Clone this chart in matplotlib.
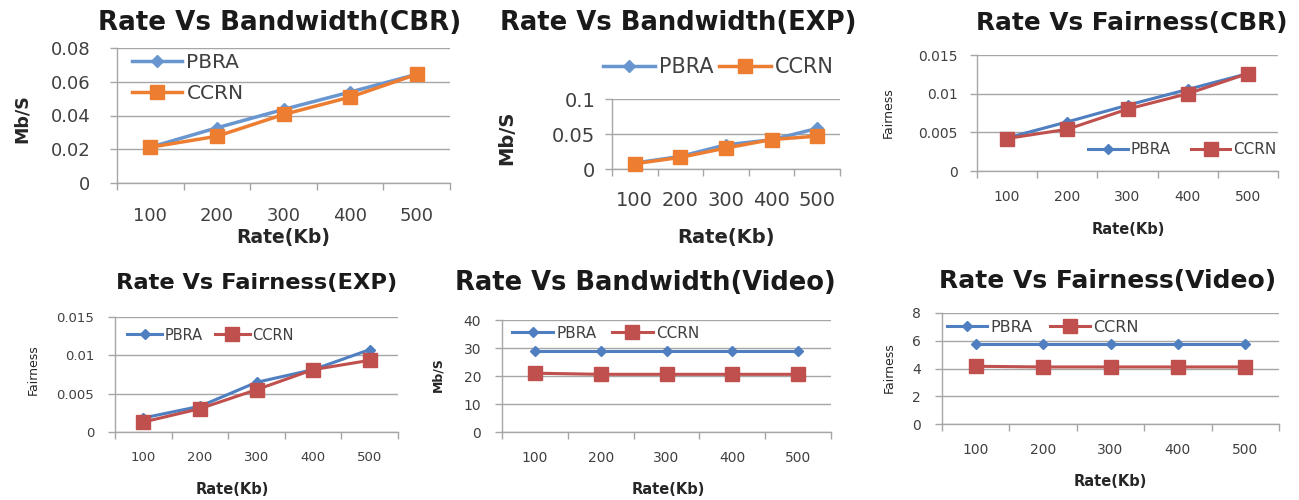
import matplotlib
matplotlib.use("Agg")
import matplotlib.pyplot as plt
import numpy as np

W, H = 1299, 500
DPI = 100
plt.rcParams['font.family'] = ['DejaVu Sans']

rates = ["100", "200", "300", "400", "500"]
series_names = ["PBRA", "CCRN"]

bw_cbr_pbra = [0.0212, 0.0327, 0.0436, 0.0539, 0.0644]
bw_cbr_ccrn = [0.0212, 0.0277, 0.0406, 0.0509, 0.0644]

bw_exp_pbra = [0.0085, 0.018, 0.0346, 0.0417, 0.058]
bw_exp_ccrn = [0.0076, 0.0166, 0.030, 0.042, 0.047]

fair_cbr_pbra = [0.00428, 0.00635, 0.00851, 0.01055, 0.0126]
fair_cbr_ccrn = [0.0042, 0.0054, 0.0080, 0.0100, 0.0126]

fair_exp_pbra = [0.00183, 0.00335, 0.00648, 0.00813, 0.01074]
fair_exp_ccrn = [0.0013, 0.00304, 0.00552, 0.00813, 0.00935]

bw_video_pbra = [29.1, 29.1, 29.1, 29.1, 29.1]
bw_video_ccrn = [21.0, 20.6, 20.6, 20.6, 20.6]

fair_video_pbra = [5.8, 5.8, 5.8, 5.8, 5.8]
fair_video_ccrn = [4.16, 4.11, 4.11, 4.11, 4.11]

fig = plt.figure(figsize=(W / DPI, H / DPI), dpi=DPI)

GRID = "#a6a6a6"
TXT = "#404040"


def px_axes(l, r, t, b):
    return fig.add_axes([l / W, 1 - b / H, (r - l) / W, (b - t) / H])


def ftext(x, y, s, **kw):
    fig.text(x / W, 1 - y / H, s, ha='center', va='center', **kw)


def panel(box, pbra, ccrn, ylim, ystep, ylabels, colors, tick_fs, xpad, ypad,
          title, title_xy, title_fs, xlab_xy, lab_fs, ylab, ylab_xy, ylab_fs, ylab_w,
          ms_sq, ms_d, lw, leg_xy, legend_kw):
    ax = px_axes(*box)
    c1, c2 = colors
    ax.plot(rates, pbra, color=c1, marker='D', ms=ms_d, lw=lw, label=series_names[0],
            zorder=3, clip_on=False)
    ax.plot(rates, ccrn, color=c2, marker='s', ms=ms_sq, lw=lw, label=series_names[1],
            zorder=4, clip_on=False)
    ax.set_xlim(-0.5, len(rates) - 0.5)
    ax.set_ylim(*ylim)
    yt = np.arange(ylim[0], ylim[1] + ystep / 2, ystep)
    ax.set_yticks(yt)
    ax.set_yticklabels(ylabels)
    ax.set_xticks(np.arange(-0.5, len(rates), 1.0))
    ax.set_xticklabels([])
    ax.set_xticks(np.arange(len(rates)), minor=True)
    ax.set_xticklabels(rates, minor=True)
    ax.tick_params(axis='x', which='major', length=5, width=1, color=GRID, direction='out')
    ax.tick_params(axis='x', which='minor', length=0, pad=xpad, labelsize=tick_fs,
                   labelcolor=TXT)
    ax.tick_params(axis='y', length=5, width=1, color=GRID, pad=ypad, labelsize=tick_fs,
                   labelcolor=TXT)
    ax.grid(axis='y', color=GRID, lw=1)
    ax.set_axisbelow(True)
    for s in ['top', 'right']:
        ax.spines[s].set_visible(False)
    for s in ['left', 'bottom']:
        ax.spines[s].set_color(GRID)
        ax.spines[s].set_linewidth(1)
    ax.legend(frameon=False, loc='center left',
              bbox_to_anchor=(leg_xy[0] / W, 1 - leg_xy[1] / H),
              bbox_transform=fig.transFigure, borderpad=0, borderaxespad=0,
              handletextpad=0.2, labelcolor=TXT, **legend_kw)
    ftext(*title_xy, title, fontsize=title_fs, fontweight='bold', color='#1a1a1a')
    ftext(*xlab_xy, "Rate(Kb)", fontsize=lab_fs, fontweight='bold', color='#262626')
    ftext(*ylab_xy, ylab, fontsize=ylab_fs, fontweight=ylab_w, color='#262626', rotation=90)
    return ax


BLUE1, ORANGE1 = "#6a96d0", "#ed7d31"
BLUE2, RED2 = "#4f7fc0", "#c0504d"

# Panel 1
panel((117, 450, 48, 183), bw_cbr_pbra, bw_cbr_ccrn, (0, 0.08), 0.02,
      ["0", "0.02", "0.04", "0.06", "0.08"], (BLUE1, ORANGE1), 13, 17, 14,
      "Rate Vs Bandwidth(CBR)", (280, 23), 18.8, (283, 238), 13.5, "Mb/S", (22, 119), 12.5, 'bold',
      10, 6, 2.5, (132, 78),
      dict(fontsize=14.5, handlelength=2.5, labelspacing=0.6))

# Panel 2
panel((612, 840, 99, 169), bw_exp_pbra, bw_exp_ccrn, (0, 0.1), 0.05,
      ["0", "0.05", "0.1"], (BLUE1, ORANGE1), 14, 16, 7,
      "Rate Vs Bandwidth(EXP)", (678, 23), 18.6, (726, 237), 14, "Mb/S", (507, 138), 14, 'bold',
      10, 6, 2.5, (603, 67),
      dict(ncol=2, fontsize=15, handlelength=2.5, columnspacing=0.25))

# Panel 3
panel((977, 1278, 55, 171), fair_cbr_pbra, fair_cbr_ccrn, (0, 0.015), 0.005,
      ["0", "0.005", "0.01", "0.015"], (BLUE2, RED2), 10, 14, 9,
      "Rate Vs Fairness(CBR)", (1132, 23), 17.8, (1128, 230), 10.5, "Fairness", (888, 113), 9, 'normal',
      9.5, 5, 2.2, (1088, 150),
      dict(ncol=2, fontsize=11, handlelength=2.6, columnspacing=1.3))

# Panel 4
panel((115, 398, 317, 432), fair_exp_pbra, fair_exp_ccrn, (0, 0.015), 0.005,
      ["0", "0.005", "0.01", "0.015"], (BLUE2, RED2), 9.5, 14, 10,
      "Rate Vs Fairness(EXP)", (257, 283), 16.2, (232, 489), 10.5, "Fairness", (33, 370), 9, 'normal',
      9.5, 5, 2.2, (127, 335),
      dict(ncol=2, fontsize=10.5, handlelength=2.4, columnspacing=0.8))

# Panel 5
panel((502, 831, 320, 432), bw_video_pbra, bw_video_ccrn, (0, 40), 10,
      ["0", "10", "20", "30", "40"], (BLUE2, RED2), 10, 13.5, 10,
      "Rate Vs Bandwidth(Video)", (645, 283), 18.5, (668, 489), 10.5, "Mb/S", (438, 375), 9, 'bold',
      10, 5.5, 2.2, (512, 333),
      dict(ncol=2, fontsize=11, handlelength=2.7, columnspacing=1.0))

# Panel 6
panel((942, 1279, 313, 424), fair_video_pbra, fair_video_ccrn, (0, 8), 2,
      ["0", "2", "4", "6", "8"], (BLUE2, RED2), 10, 14, 10,
      "Rate Vs Fairness(Video)", (1108, 281), 18, (1110, 481), 10.5, "Fairness", (889, 368), 9, 'normal',
      10, 5.5, 2.2, (947, 327),
      dict(ncol=2, fontsize=11.5, handlelength=2.5, columnspacing=1.1))

fig.savefig("out.png", dpi=DPI)
